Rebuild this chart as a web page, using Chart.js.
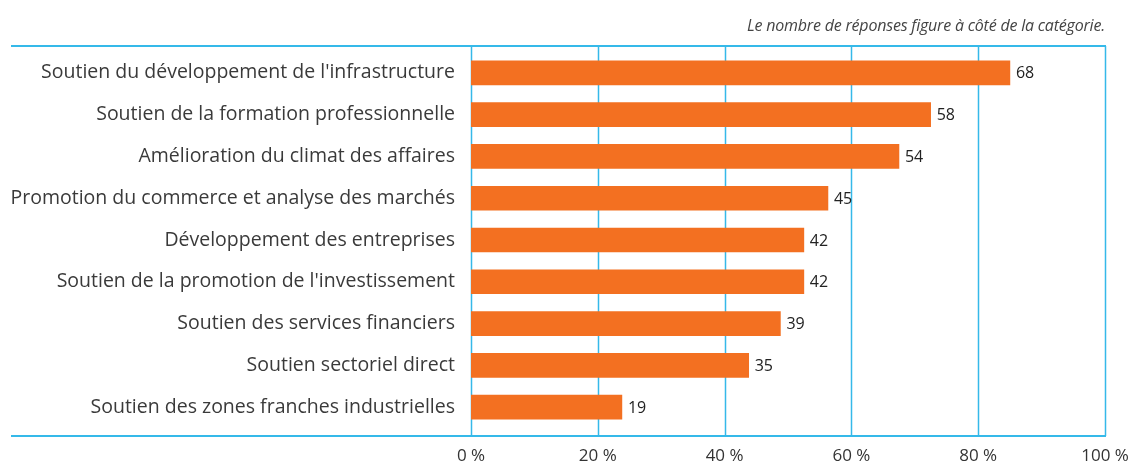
<!DOCTYPE html>
<html>
<head>
<meta charset="utf-8">
<script src="https://cdn.jsdelivr.net/npm/chart.js@4"></script>
<style>
  html, body { margin: 0; padding: 0; background: #fff; }
  #wrap { position: relative; width: 1133px; height: 468px; }
  #note {
    position: absolute; right: 28px; top: 14px;
    font: italic 16px "Open Sans", sans-serif; color: #444;
    letter-spacing: -0.2px;
  }
</style>
</head>
<body>
<div id="wrap">
  <div id="note">Le nombre de réponses figure à côté de la catégorie.</div>
  <canvas id="barChart" width="1133" height="468"></canvas>
</div>
<script>
// Categories, bar share (%) and response counts
const categories = [
  "Soutien du développement de l'infrastructure",
  'Soutien de la formation professionnelle',
  'Amélioration du climat des affaires',
  'Promotion du commerce et analyse des marchés',
  'Développement des entreprises',
  "Soutien de la promotion de l'investissement",
  'Soutien des services financiers',
  'Soutien sectoriel direct',
  'Soutien des zones franches industrielles'
];
const shares = [85, 72.5, 67.5, 56.3, 52.5, 52.5, 48.8, 43.8, 23.8];
const counts = [68, 58, 54, 45, 42, 42, 39, 35, 19];
const xTicks = [0, 20, 40, 60, 80, 100];

const lineBlue = '#35b9e9';
const barOrange = '#f37021';

// frame lines and vertical grid, drawn a bit beyond the chart area
const framePlugin = {
  id: 'frame',
  beforeDatasetsDraw(chart) {
    const { ctx, chartArea, scales } = chart;
    const top = chartArea.top - 6;
    const bottom = chartArea.bottom + 8;
    ctx.save();
    ctx.strokeStyle = lineBlue;
    ctx.lineWidth = 1.5;
    xTicks.forEach(v => {
      const x = Math.round(scales.x.getPixelForValue(v)) + 0.5;
      ctx.beginPath();
      ctx.moveTo(x, top);
      ctx.lineTo(x, bottom);
      ctx.stroke();
    });
    ctx.lineWidth = 2;
    [top, bottom].forEach(y => {
      ctx.beginPath();
      ctx.moveTo(11, y);
      ctx.lineTo(scales.x.getPixelForValue(100) + 1, y);
      ctx.stroke();
    });
    ctx.restore();
  }
};

// response counts to the right of each bar
const countPlugin = {
  id: 'counts',
  afterDatasetsDraw(chart) {
    const { ctx } = chart;
    const meta = chart.getDatasetMeta(0);
    ctx.save();
    ctx.font = '16px "Open Sans", sans-serif';
    ctx.fillStyle = '#222';
    ctx.textBaseline = 'middle';
    meta.data.forEach((bar, i) => {
      ctx.fillText(counts[i], bar.x + 6, bar.y + 1);
    });
    ctx.restore();
  }
};

new Chart(document.getElementById('barChart'), {
  type: 'bar',
  data: {
    labels: categories,
    datasets: [{
      data: shares,
      backgroundColor: barOrange,
      barThickness: 24,
      borderWidth: 0
    }]
  },
  plugins: [framePlugin, countPlugin],
  options: {
    indexAxis: 'y',
    responsive: false,
    animation: false,
    layout: { padding: { top: 52, right: 28, left: 0, bottom: 0 } },
    plugins: {
      legend: { display: false },
      tooltip: { enabled: false }
    },
    scales: {
      x: {
        min: 0,
        max: 100,
        afterBuildTicks(scale) {
          scale.ticks = xTicks.map(v => ({ value: v }));
        },
        afterFit(scale) {
          scale.height = 40;
          scale.paddingLeft = 0;
          scale.paddingRight = 0;
        },
        grid: { display: false, drawTicks: false },
        border: { display: false },
        ticks: {
          padding: 18,
          color: '#333',
          font: { family: '"Open Sans", sans-serif', size: 17 },
          callback: v => v + ' %'
        }
      },
      y: {
        afterFit(scale) {
          scale.width = 471;
          scale.paddingTop = 0;
          scale.paddingBottom = 0;
        },
        grid: { display: false, drawTicks: false },
        border: { display: false },
        ticks: {
          padding: 16,
          color: '#3a3a3a',
          font: { family: '"Open Sans", sans-serif', size: 19.5 }
        }
      }
    }
  }
});
</script>
</body>
</html>
